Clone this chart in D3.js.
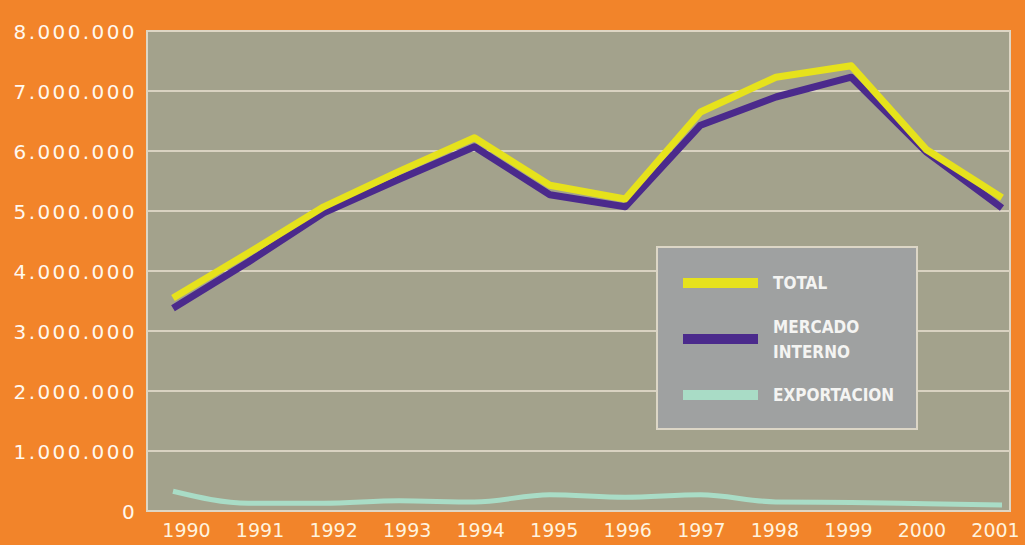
<!DOCTYPE html>
<html>
<head>
<meta charset="utf-8">
<script src="https://cdn.jsdelivr.net/npm/d3@7"></script>
<style>
  html, body { margin: 0; padding: 0; background: #f2842a; }
  svg { display: block; }
  .axis text { font-family: "DejaVu Sans", sans-serif; }
  .axis path, .axis line { display: none; }
</style>
</head>
<body>
<div id="chart"></div>
<script>
const years = [1990, 1991, 1992, 1993, 1994, 1995, 1996, 1997, 1998, 1999, 2000, 2001];
const total = [3550000, 4300000, 5070000, 5660000, 6220000, 5430000, 5200000, 6650000, 7230000, 7420000, 6020000, 5220000];
const mercadoInterno = [3380000, 4150000, 4970000, 5530000, 6070000, 5270000, 5070000, 6430000, 6900000, 7230000, 5980000, 5050000];
const exportacion = [330000, 130000, 130000, 170000, 150000, 270000, 230000, 270000, 150000, 140000, 120000, 100000];
const yTicks = [0, 1000000, 2000000, 3000000, 4000000, 5000000, 6000000, 7000000, 8000000];

const width = 1025, height = 545;
const plot = { left: 147, right: 1010, top: 31, bottom: 511 };

const svg = d3.select('#chart').append('svg')
  .attr('width', width)
  .attr('height', height);

svg.append('rect')
  .attr('width', width)
  .attr('height', height)
  .attr('fill', '#f2842a');

const x = d3.scalePoint().domain(years).range([173, 1002]);
const xLabel = d3.scalePoint().domain(years).range([186, 995]);
const y = d3.scaleLinear().domain([0, 8000000]).range([plot.bottom, plot.top]);

const locale = d3.formatLocale({ decimal: ',', thousands: '.', grouping: [3], currency: ['', ''] });
const fmt = locale.format(',d');

// plot background
svg.append('rect')
  .attr('x', plot.left)
  .attr('y', plot.top)
  .attr('width', plot.right - plot.left)
  .attr('height', plot.bottom - plot.top)
  .attr('fill', '#a3a28c')
  .attr('stroke', '#ded6c4')
  .attr('stroke-width', 2);

// gridlines
svg.append('g')
  .selectAll('line')
  .data(yTicks.slice(1, -1))
  .join('line')
  .attr('x1', plot.left)
  .attr('x2', plot.right)
  .attr('y1', d => y(d))
  .attr('y2', d => y(d))
  .attr('stroke', '#d9d2c1')
  .attr('stroke-width', 2);

// y axis
svg.append('g')
  .attr('class', 'axis')
  .attr('transform', `translate(${plot.left}, 0)`)
  .call(d3.axisLeft(y).tickValues(yTicks).tickFormat(fmt).tickSize(0).tickPadding(10))
  .selectAll('text')
  .attr('fill', '#fff8ee')
  .attr('font-size', 20)
  .attr('letter-spacing', 2.4)
  .attr('dy', '0.36em');

// x axis
svg.append('g')
  .attr('class', 'axis')
  .attr('transform', `translate(0, ${plot.bottom})`)
  .call(d3.axisBottom(xLabel).tickSize(0).tickPadding(13))
  .selectAll('text')
  .attr('fill', '#fff3de')
  .attr('font-size', 19);

const series = [
  { name: 'EXPORTACION', values: exportacion, color: '#a9dcc6', width: 5, curve: d3.curveMonotoneX },
  { name: 'MERCADO INTERNO', values: mercadoInterno, color: '#4b2a8c', width: 7, curve: d3.curveLinear },
  { name: 'TOTAL', values: total, color: '#e6e21c', width: 7, curve: d3.curveLinear },
];

series.forEach(s => {
  const line = d3.line()
    .curve(s.curve)
    .x((d, i) => x(years[i]))
    .y(d => y(d));
  svg.append('path')
    .datum(s.values)
    .attr('d', line)
    .attr('fill', 'none')
    .attr('stroke', s.color)
    .attr('stroke-width', s.width)
    .attr('stroke-linejoin', 'round')
    .attr('stroke-linecap', 'butt');
});

// legend
const legend = svg.append('g').attr('transform', 'translate(657, 247)');
legend.append('rect')
  .attr('width', 260)
  .attr('height', 182)
  .attr('fill', '#9fa1a1')
  .attr('stroke', '#dcd6c6')
  .attr('stroke-width', 2);

const legendItems = [
  { lines: ['TOTAL'], color: '#e6e21c', cy: 36 },
  { lines: ['MERCADO', 'INTERNO'], color: '#4b2a8c', cy: 92 },
  { lines: ['EXPORTACION'], color: '#a9dcc6', cy: 148 },
];

legendItems.forEach(item => {
  legend.append('line')
    .attr('x1', 26)
    .attr('x2', 101)
    .attr('y1', item.cy)
    .attr('y2', item.cy)
    .attr('stroke', item.color)
    .attr('stroke-width', 10);
  const text = legend.append('text')
    .attr('x', 116)
    .attr('y', item.cy - (item.lines.length - 1) * 12.5)
    .attr('fill', '#f4f4f2')
    .attr('font-family', '"DejaVu Sans Condensed", "DejaVu Sans", sans-serif')
    .attr('font-stretch', 'condensed')
    .attr('font-weight', 'bold')
    .attr('font-size', 17);
  item.lines.forEach((t, i) => {
    text.append('tspan')
      .attr('x', 116)
      .attr('dy', i === 0 ? '0.36em' : 25)
      .text(t);
  });
});
</script>
</body>
</html>
